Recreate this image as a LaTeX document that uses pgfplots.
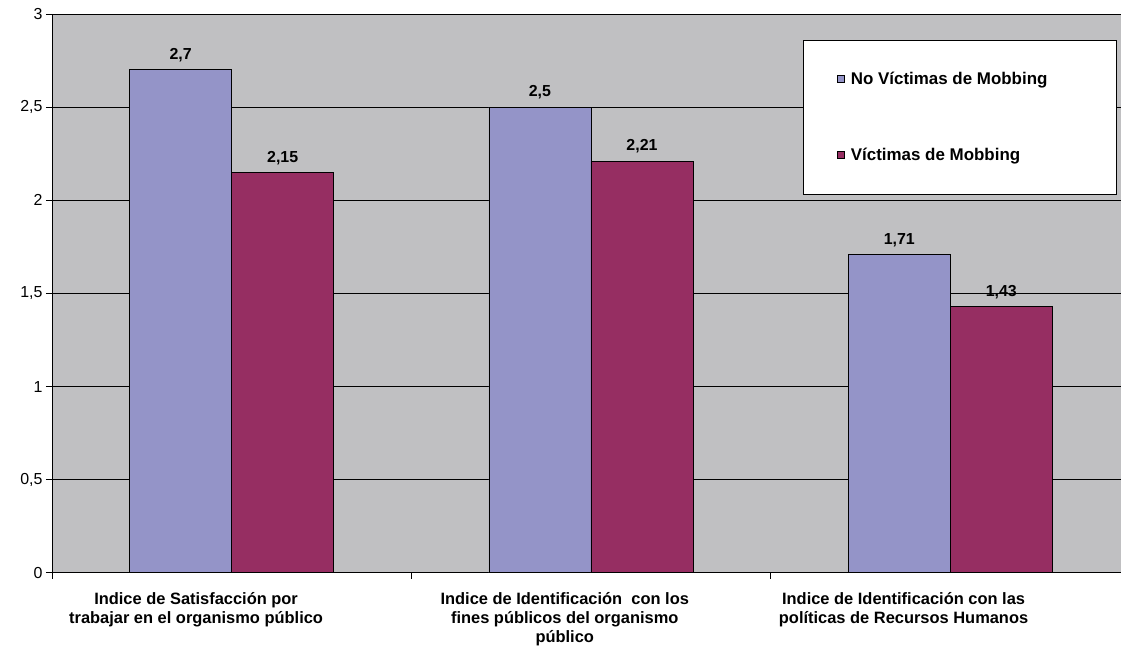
\documentclass[border=0pt]{standalone}
\usepackage{pgfplots}
\pgfplotsset{compat=1.18}
\usepackage{fontspec}
\setmainfont{Liberation Sans}
\definecolor{fondo}{HTML}{C0C0C2}
\definecolor{azul}{HTML}{9494C8}
\definecolor{granate}{HTML}{962E62}
\begin{document}
\begin{tikzpicture}
\begin{axis}[
    scale only axis,
    width=1069bp, height=559bp,
    xmin=-0.5, xmax=2.474,
    ymin=0, ymax=3,
    ybar, bar width=0.284,
    axis background/.style={fill=fondo},
    axis x line*=bottom, axis y line*=left,
    axis line style={-, black, line width=0.8bp},
    tick align=outside,
    major tick length=6bp,
    tick style={black, line width=0.8bp},
    ytick={0,0.5,1,1.5,2,2.5,3},
    ymajorgrids,
    grid style={black, line width=0.8bp},
    xtick={-0.5,0.5,1.5},
    xticklabels={},
    extra x ticks={-0.099,0.927,1.87},
    extra x tick labels={
        {Indice de Satisfacción  por\\trabajar en el organismo  público},
        {Indice de Identificación \ con los\\fines públicos del organismo\\público},
        {Indice de Identificación con las\\políticas de Recursos  Humanos}},
    extra x tick style={major tick length=0pt,
        tick label style={font=\bfseries\fontsize{16.5}{19}\selectfont, align=center, yshift=-16bp}},
    /pgf/number format/use comma,
    /pgf/number format/assume math mode=true,
    yticklabel style={font=\fontsize{16}{18}\selectfont},
    nodes near coords,
    every node near coord/.append style={font=\bfseries\fontsize{16}{18}\selectfont, black, yshift=4bp},
    legend style={at={(0.7025,0.9535)}, anchor=north west, draw=black, fill=white,
        line width=0.8bp, inner xsep=34bp, inner ysep=30bp, row sep=58bp,
        font=\bfseries\fontsize{17}{19}\selectfont},
    legend cell align=left,
    legend image code/.code={\draw[#1, draw=black, line width=0.8bp] (0bp,-3.5bp) rectangle (7bp,3.5bp);},
    /tikz/every odd column/.append style={column sep=4bp},
]
\addplot[bar shift=-0.142, fill=azul, draw=black, line width=0.8bp]
coordinates {(0,2.7) (1,2.5) (2,1.71)};
\addlegendentry{\makebox[230bp][l]{No Víctimas de Mobbing}}
\addplot[bar shift=0.142, fill=granate, draw=black, line width=0.8bp]
coordinates {(0,2.15) (1,2.21) (2,1.43)};
\addlegendentry{\makebox[230bp][l]{Víctimas de Mobbing}}
\end{axis}
\path (current axis.south west) ++(-52bp,-75bp);
\path (current axis.north east) ++(0bp,14bp);
\end{tikzpicture}
\end{document}
